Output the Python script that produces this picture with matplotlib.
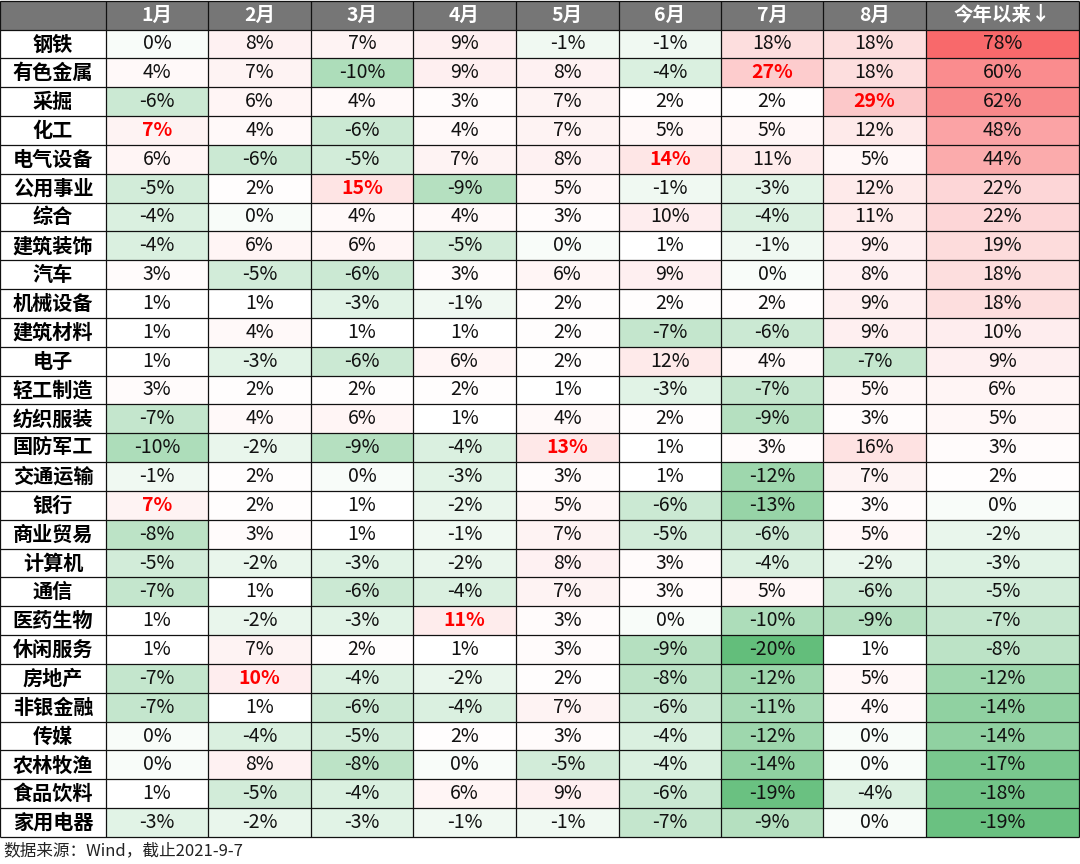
import numpy as np
import matplotlib
matplotlib.use("Agg")
import matplotlib.pyplot as plt
from matplotlib.patches import Rectangle

plt.rcParams['font.family'] = ['Noto Sans CJK SC', 'DejaVu Sans']

columns = ["1月", "2月", "3月", "4月", "5月", "6月", "7月", "8月", "今年以来↓"]
industries = ["钢铁", "有色金属", "采掘", "化工", "电气设备", "公用事业", "综合", "建筑装饰",
              "汽车", "机械设备", "建筑材料", "电子", "轻工制造", "纺织服装", "国防军工",
              "交通运输", "银行", "商业贸易", "计算机", "通信", "医药生物", "休闲服务",
              "房地产", "非银金融", "传媒", "农林牧渔", "食品饮料", "家用电器"]

m01 = [0, 4, -6, 7, 6, -5, -4, -4, 3, 1, 1, 1, 3, -7, -10, -1, 7, -8, -5, -7, 1, 1, -7, -7, 0, 0, 1, -3]
m02 = [8, 7, 6, 4, -6, 2, 0, 6, -5, 1, 4, -3, 2, 4, -2, 2, 2, 3, -2, 1, -2, 7, 10, 1, -4, 8, -5, -2]
m03 = [7, -10, 4, -6, -5, 15, 4, 6, -6, -3, 1, -6, 2, 6, -9, 0, 1, 1, -3, -6, -3, 2, -4, -6, -5, -8, -4, -3]
m04 = [9, 9, 3, 4, 7, -9, 4, -5, 3, -1, 1, 6, 2, 1, -4, -3, -2, -1, -2, -4, 11, 1, -2, -4, 2, 0, 6, -1]
m05 = [-1, 8, 7, 7, 8, 5, 3, 0, 6, 2, 2, 2, 1, 4, 13, 3, 5, 7, 8, 7, 3, 3, 2, 7, 3, -5, 9, -1]
m06 = [-1, -4, 2, 5, 14, -1, 10, 1, 9, 2, -7, 12, -3, 2, 1, 1, -6, -5, 3, 3, 0, -9, -8, -6, -4, -4, -6, -7]
m07 = [18, 27, 2, 5, 11, -3, -4, -1, 0, 2, -6, 4, -7, -9, 3, -12, -13, -6, -4, 5, -10, -20, -12, -11, -12, -14, -19, -9]
m08 = [18, 18, 29, 12, 5, 12, 11, 9, 8, 9, 9, -7, 5, 3, 16, 7, 3, 5, -2, -6, -9, 1, 5, 4, 0, 0, -4, 0]
ytd = [78, 60, 62, 48, 44, 22, 22, 19, 18, 18, 10, 9, 6, 5, 3, 2, 0, -2, -3, -5, -7, -8, -12, -14, -14, -17, -18, -19]

source_note = "数据来源：Wind，截止2021-9-7"

data = np.array([m01, m02, m03, m04, m05, m06, m07, m08, ytd], dtype=float).T  # rows x cols

# layout (pixels)
W, H = 1080, 864
col_edges = [0, 106, 208, 311, 413, 516, 619, 721, 823, 926, 1079]
top, header_h = 1, 28.5
row_h = (837 - (top + header_h)) / len(industries)

green = np.array([99, 190, 123]) / 255
white = np.array([255, 255, 255]) / 255
red = np.array([248, 105, 107]) / 255
vmin, vmax = data.min(), data.max()
vmid = np.percentile(data, 50)

def color_for(v):
    if v <= vmid:
        t = (vmid - v) / (vmid - vmin) if vmid > vmin else 0
        return white + (green - white) * t
    t = (v - vmid) / (vmax - vmid)
    return white + (red - white) * t

fig = plt.figure(figsize=(W / 100, H / 100), dpi=100)
ax = fig.add_axes([0, 0, 1, 1])
ax.set_xlim(0, W)
ax.set_ylim(H, 0)
ax.axis('off')

lw = 0.9
header_color = '#767676'
# header
ax.add_patch(Rectangle((col_edges[0], top), col_edges[-1] - col_edges[0], header_h,
                       facecolor=header_color, edgecolor='none'))
for j, name in enumerate(columns):
    cx = (col_edges[j + 1] + col_edges[j + 2]) / 2
    ax.text(cx, top + header_h / 2, name, ha='center', va='center', color='white',
            fontsize=14, fontweight='bold')

# column maxima (months only)
col_max = data[:, :8].max(axis=0)

for i, ind in enumerate(industries):
    y0 = top + header_h + i * row_h
    cy = y0 + row_h / 2
    ax.text((col_edges[0] + col_edges[1]) / 2, cy, ind, ha='center', va='center',
            fontsize=14.5, fontweight='bold', color='black')
    for j in range(len(columns)):
        v = data[i, j]
        x0, x1 = col_edges[j + 1], col_edges[j + 2]
        ax.add_patch(Rectangle((x0, y0), x1 - x0, row_h, facecolor=color_for(v), edgecolor='none'))
        hl = j < 8 and v == col_max[j]
        ax.text((x0 + x1) / 2, cy, f"{int(v)}%", ha='center', va='center', fontsize=14,
                color='#ff0000' if hl else '#111111', fontweight='bold' if hl else 'normal')

# grid lines
bottom = top + header_h + len(industries) * row_h
for k, x in enumerate(col_edges):
    ax.plot([x, x], [top, bottom], color='#111111', lw=lw, solid_capstyle='butt')
ys = [top + header_h + i * row_h for i in range(len(industries) + 1)]
for y in [top] + ys:
    ax.plot([col_edges[0], col_edges[-1]], [y, y], color='#111111', lw=lw, solid_capstyle='butt')

ax.text(3, 851, source_note, ha='left', va='center', fontsize=12, color='#222222')

fig.savefig('out.png', dpi=100)
